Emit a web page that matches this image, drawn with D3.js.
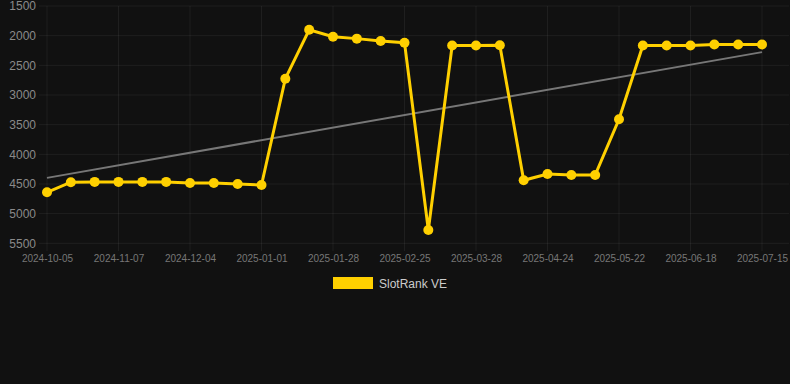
<!DOCTYPE html>
<html>
<head>
<meta charset="utf-8">
<script src="https://cdn.jsdelivr.net/npm/d3@7"></script>
<style>
    html, body { margin: 0; padding: 0; background: #111111; }
    svg { display: block; font-family: "Liberation Sans", Arial, sans-serif; }
</style>
</head>
<body>
<div id="chart"></div>
<script>
// category labels (one per data point)
const dates = [
    '2024-10-05', '2024-10-16', '2024-10-27', '2024-11-07', '2024-11-16', '2024-11-25',
    '2024-12-04', '2024-12-13', '2024-12-22', '2025-01-01', '2025-01-10', '2025-01-19',
    '2025-01-28', '2025-02-06', '2025-02-15', '2025-02-25', '2025-03-07', '2025-03-17',
    '2025-03-28', '2025-04-06', '2025-04-15', '2025-04-24', '2025-05-03', '2025-05-12',
    '2025-05-22', '2025-05-31', '2025-06-09', '2025-06-18', '2025-06-27', '2025-07-06',
    '2025-07-15'
]

// SlotRank VE rank
const ranks = [
    4640, 4470, 4465, 4465, 4465, 4465, 4485, 4485, 4500, 4517,
    2725, 1900, 2017, 2050, 2090, 2118, 5275, 2167, 2167, 2163,
    4438, 4332, 4349, 4349, 3410, 2167, 2167, 2167, 2150, 2150,
    2150
]

const y_ticks = [1500, 2000, 2500, 3000, 3500, 4000, 4500, 5000, 5500]
const series_name = 'SlotRank VE'

const W = 790, H = 384
const line_col = '#ffd000'
const grid_col = 'rgba(255,255,255,0.06)'

const svg = d3.select('#chart').append('svg').attr('width', W).attr('height', H)

const x = d3.scalePoint().domain(dates).range([47, 762])
const y = d3.scaleLinear().domain([1500, 5500]).range([6, 243.3])

// horizontal grid
svg.append('g').selectAll('line')
    .data(y_ticks)
    .enter()
    .append('line')
    .attr('x1', 39).attr('x2', 789)
    .attr('y1', d => y(d)).attr('y2', d => y(d))
    .attr('stroke', grid_col)

// vertical grid, only where a label is shown
const shown = dates.filter((d, i) => i % 3 == 0)
svg.append('g').selectAll('line')
    .data(shown)
    .enter()
    .append('line')
    .attr('x1', d => x(d)).attr('x2', d => x(d))
    .attr('y1', 6).attr('y2', 251)
    .attr('stroke', grid_col)

// y axis labels
const yAxis = d3.axisLeft(y).tickValues(y_ticks).tickFormat(d3.format('d')).tickSize(0).tickPadding(0)
svg.append('g')
    .attr('transform', 'translate(36,0)')
    .call(yAxis)
    .call(g => g.select('.domain').remove())
    .call(g => g.selectAll('text').attr('fill', '#8a8a8a').attr('font-size', 12).attr('font-family', null))

// x axis labels
const xAxis = d3.axisBottom(x).tickValues(shown).tickSize(0).tickPadding(0)
svg.append('g')
    .attr('transform', 'translate(0,255)')
    .call(xAxis)
    .call(g => g.select('.domain').remove())
    .call(g => g.selectAll('text').attr('fill', '#777').attr('font-size', 10).attr('font-family', null))

// least squares trend line
const n = ranks.length
const mx = d3.mean(ranks, (d, i) => i)
const my = d3.mean(ranks)
const slope = d3.sum(ranks, (d, i) => (i - mx) * (d - my)) / d3.sum(ranks, (d, i) => (i - mx) * (i - mx))
const trend = [0, n - 1].map(i => ({ i: i, v: my + slope * (i - mx) }))

svg.append('path')
    .datum(trend)
    .attr('d', d3.line().x(d => x(dates[d.i])).y(d => y(d.v)))
    .attr('fill', 'none')
    .attr('stroke', '#777777')
    .attr('stroke-width', 2)

// main series
svg.append('path')
    .datum(ranks)
    .attr('d', d3.line().x((d, i) => x(dates[i])).y(d => y(d)))
    .attr('fill', 'none')
    .attr('stroke', line_col)
    .attr('stroke-width', 3)
    .attr('stroke-linejoin', 'miter')

svg.append('g').selectAll('circle')
    .data(ranks)
    .enter()
    .append('circle')
    .attr('cx', (d, i) => x(dates[i]))
    .attr('cy', d => y(d))
    .attr('r', 5)
    .attr('fill', line_col)

// legend
const lg = svg.append('g')
lg.append('rect')
    .attr('x', 333).attr('y', 277)
    .attr('width', 40).attr('height', 12)
    .attr('fill', line_col)
lg.append('text')
    .attr('x', 379).attr('y', 284)
    .attr('dy', '0.35em')
    .attr('font-size', 12)
    .attr('fill', '#cccccc')
    .text(series_name)
</script>
</body>
</html>
